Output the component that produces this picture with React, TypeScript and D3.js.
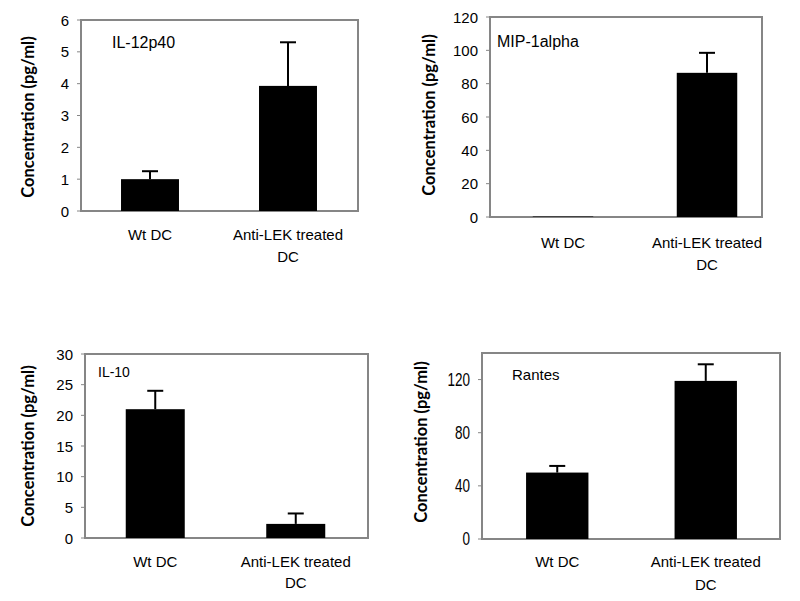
import React from "react";
import * as d3 from "d3";

const categories = ["Wt DC", "Anti-LEK treated DC"];
const categoryLines = [["Wt DC"], ["Anti-LEK treated", "DC"]];

const il12Values = [1.0, 3.93];
const il12Errors = [0.25, 1.37];
const il12Ticks = [0, 1, 2, 3, 4, 5, 6];

const mipValues = [0.3, 86.5];
const mipErrors = [0, 12];
const mipTicks = [0, 20, 40, 60, 80, 100, 120];

const il10Values = [21, 2.3];
const il10Errors = [3, 1.7];
const il10Ticks = [0, 5, 10, 15, 20, 25, 30];

const rantesValues = [50, 119];
const rantesErrors = [5, 12.5];
const rantesTicks = [0, 40, 80, 120];

const panelTitles = ["IL-12p40", "MIP-1alpha", "IL-10", "Rantes"];
const yAxisTitle = "Concentration (pg/ml)";

type PanelProps = {
  title: string;
  values: number[];
  errors: number[];
  ticks: number[];
  yMax: number;
  box: { l: number; r: number; t: number; b: number };
  bandRange: [number, number];
  tickFont: number;
  tickScaleX: number;
  titlePos: [number, number];
  titleFont: number;
  yTitlePos: [number, number];
  xLabelY: [number, number];
};

function Panel(p: PanelProps) {
  const x = d3
    .scaleBand<string>()
    .domain(categories)
    .range(p.bandRange)
    .paddingInner(0.58)
    .paddingOuter(0.29);
  const y = d3.scaleLinear().domain([0, p.yMax]).range([p.box.b, p.box.t]);
  const bw = x.bandwidth();
  const cap = 16;
  return (
    <g>
      <rect
        x={p.box.l}
        y={p.box.t}
        width={p.box.r - p.box.l}
        height={p.box.b - p.box.t}
        fill="none"
        stroke="#868686"
        strokeWidth={2}
      />
      {p.ticks.map((t) => (
        <g key={t}>
          <line x1={p.box.l - 4} x2={p.box.l} y1={y(t)} y2={y(t)} stroke="#868686" strokeWidth={1} />
          <text
            transform={`translate(${p.box.l - 12},${y(t)}) scale(${p.tickScaleX},1)`}
            textAnchor="end"
            dominantBaseline="central"
            fontFamily="Liberation Sans, Arial, sans-serif"
            fontSize={p.tickFont}
            fill="#000"
          >
            {t}
          </text>
        </g>
      ))}
      {p.values.map((v, i) => {
        const c = categories[i];
        const x0 = x(c)!;
        const cx = x0 + bw / 2;
        const e = p.errors[i];
        return (
          <g key={c}>
            {e > 0 && (
              <g stroke="#000" strokeWidth={2}>
                <line x1={cx} x2={cx} y1={y(v)} y2={y(v + e)} />
                <line x1={cx - cap / 2} x2={cx + cap / 2} y1={y(v + e)} y2={y(v + e)} />
              </g>
            )}
            <rect x={x0} y={y(v)} width={bw} height={Math.max(0, y(0) - y(v))} fill="#000" />
          </g>
        );
      })}
      {categories.map((c, i) => (
        <g key={c}>
          {categoryLines[i].map((line, j) => (
            <text
              key={j}
              x={x(c)! + bw / 2}
              y={p.xLabelY[j]}
              textAnchor="middle"
              fontFamily="Liberation Sans, Arial, sans-serif"
              fontSize={15}
              fill="#000"
            >
              {line}
            </text>
          ))}
        </g>
      ))}
      <text
        x={p.titlePos[0]}
        y={p.titlePos[1]}
        fontFamily="Liberation Sans, Arial, sans-serif"
        fontSize={p.titleFont}
        fill="#000"
      >
        {p.title}
      </text>
      <text
        transform={`translate(${p.yTitlePos[0]},${p.yTitlePos[1]}) rotate(-90)`}
        textAnchor="middle"
        dominantBaseline="central"
        fontFamily="Lato, Open Sans, sans-serif"
        fontWeight="bold"
        fontSize={16.5}
        fill="#000"
      >
        {yAxisTitle}
      </text>
    </g>
  );
}

export default function App() {
  return (
    <svg width={800} height={601} style={{ position: "absolute", left: 0, top: 0, background: "#fff" }}>
      <rect x={0} y={0} width={800} height={601} fill="#fff" />
      <Panel
        title={panelTitles[0]}
        values={il12Values}
        errors={il12Errors}
        ticks={il12Ticks}
        yMax={6}
        box={{ l: 81, r: 358, t: 20, b: 211 }}
        bandRange={[81, 357]}
        tickFont={15}
        tickScaleX={1}
        titlePos={[112, 48]}
        titleFont={16}
        yTitlePos={[28, 117]}
        xLabelY={[240, 262]}
      />
      <Panel
        title={panelTitles[1]}
        values={mipValues}
        errors={mipErrors}
        ticks={mipTicks}
        yMax={120}
        box={{ l: 490, r: 762, t: 17, b: 217 }}
        bandRange={[491, 779]}
        tickFont={15}
        tickScaleX={1}
        titlePos={[497, 47]}
        titleFont={16}
        yTitlePos={[429, 115]}
        xLabelY={[248, 270]}
      />
      <Panel
        title={panelTitles[2]}
        values={il10Values}
        errors={il10Errors}
        ticks={il10Ticks}
        yMax={30}
        box={{ l: 85, r: 368, t: 354, b: 538 }}
        bandRange={[85, 366]}
        tickFont={15}
        tickScaleX={1}
        titlePos={[98, 377]}
        titleFont={14}
        yTitlePos={[28, 446]}
        xLabelY={[567, 588]}
      />
      <Panel
        title={panelTitles[3]}
        values={rantesValues}
        errors={rantesErrors}
        ticks={rantesTicks}
        yMax={140}
        box={{ l: 482, r: 780, t: 353, b: 539 }}
        bandRange={[483, 780]}
        tickFont={18}
        tickScaleX={0.75}
        titlePos={[512, 380]}
        titleFont={15}
        yTitlePos={[421, 442]}
        xLabelY={[567, 590]}
      />
    </svg>
  );
}
